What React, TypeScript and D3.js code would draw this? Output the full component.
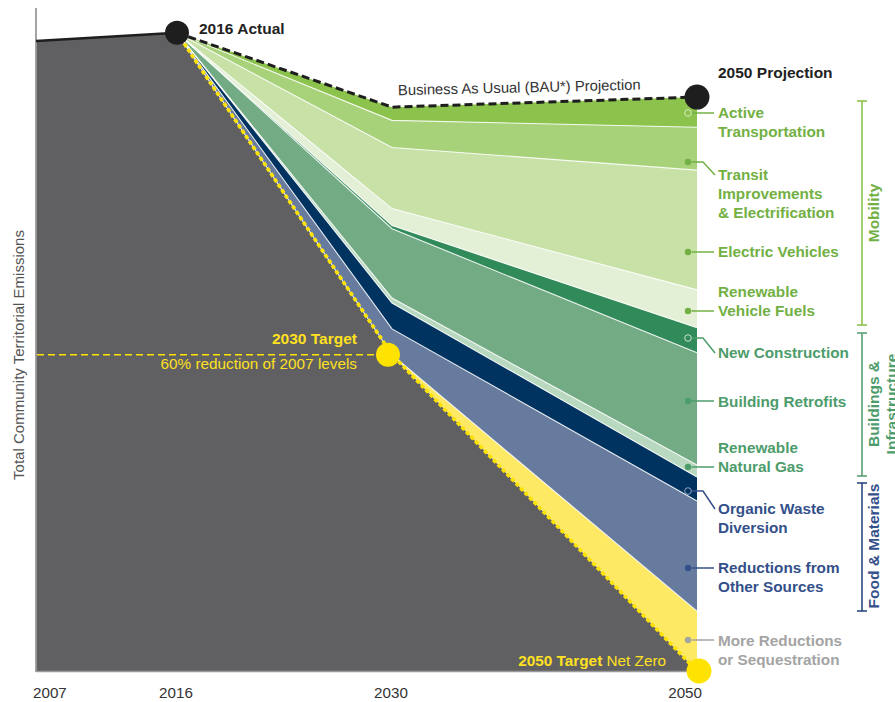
import React from "react";
import * as d3 from "d3";

// ---------- DATA ----------
const historyYears = [2007, 2016];
const historyValues = [100, 101.3]; // index: 2007 emissions = 100

const pathYears = [2016, 2030, 2050];
const targetPathway = [101.3, 50.2, 0]; // net-zero target pathway

const wedgeKeys = [
  "moreReductions",
  "otherSources",
  "organicWaste",
  "renewableNaturalGas",
  "buildingRetrofits",
  "newConstruction",
  "renewableVehicleFuels",
  "electricVehicles",
  "transit",
  "activeTransportation",
];
const moreReductions = [0, 0, 9.5];
const otherSources = [0, 4.1, 17.5];
const organicWaste = [0, 4.1, 3.8];
const renewableNaturalGas = [0, 0.8, 1.9];
const buildingRetrofits = [0, 11.0, 17.8];
const newConstruction = [0, 0.5, 4.0];
const renewableVehicleFuels = [0, 2.7, 6.0];
const electricVehicles = [0, 9.7, 19.0];
const transit = [0, 4.3, 6.8];
const activeTransportation = [0, 2.1, 4.8];

const wedgeValues: Record<string, number[]> = {
  moreReductions,
  otherSources,
  organicWaste,
  renewableNaturalGas,
  buildingRetrofits,
  newConstruction,
  renewableVehicleFuels,
  electricVehicles,
  transit,
  activeTransportation,
};

const tickYears = [2007, 2016, 2030, 2050];
const tickLabels = ["2007", "2016", "2030", "2050"];

// ---------- STYLE ----------
const wedgeColors: Record<string, string> = {
  moreReductions: "#fde964",
  otherSources: "#677b9f",
  organicWaste: "#003360",
  renewableNaturalGas: "#b8d8bf",
  buildingRetrofits: "#73ab85",
  newConstruction: "#318a59",
  renewableVehicleFuels: "#e3f0d6",
  electricVehicles: "#c7e1a6",
  transit: "#a8d27a",
  activeTransportation: "#8cc34c",
};

const groupColors: Record<string, string> = {
  mob: "#72b043",
  bld: "#4d9c6b",
  food: "#34508a",
  more: "#a4a4a4",
};

const labels = [
  { lines: ["Active", "Transportation"], ty: [113, 132], dy: 113, elbow: false, hollow: true, g: "mob", hc: "#d5eabd" },
  { lines: ["Transit", "Improvements", "& Electrification"], ty: [175, 194, 213], dy: 162, elbow: true, hollow: false, g: "mob" },
  { lines: ["Electric Vehicles"], ty: [252], dy: 252, elbow: false, hollow: false, g: "mob" },
  { lines: ["Renewable", "Vehicle Fuels"], ty: [292, 311], dy: 311, elbow: false, hollow: false, g: "mob" },
  { lines: ["New Construction"], ty: [353], dy: 338, elbow: true, hollow: true, g: "bld", hc: "#cfe3d5" },
  { lines: ["Building Retrofits"], ty: [402], dy: 401, elbow: false, hollow: false, g: "bld" },
  { lines: ["Renewable", "Natural Gas"], ty: [448, 467], dy: 467, elbow: false, hollow: false, g: "bld" },
  { lines: ["Organic Waste", "Diversion"], ty: [509, 528], dy: 491, elbow: true, hollow: true, g: "food", hc: "#8fa2c2" },
  { lines: ["Reductions from", "Other Sources"], ty: [568, 587], dy: 568, elbow: false, hollow: false, g: "food" },
  { lines: ["More Reductions", "or Sequestration"], ty: [641, 660], dy: 640, elbow: false, hollow: false, g: "more" },
];

const brackets = [
  { g: "mob", y0: 101, y1: 325, stroke: "#8cc34c", lines: ["Mobility"], cy: 213 },
  { g: "bld", y0: 333, y1: 476, stroke: "#5a9f75", lines: ["Buildings &", "Infrastructure"], cy: 404 },
  { g: "food", y0: 483, y1: 611, stroke: "#2a4a7f", lines: ["Food & Materials"], cy: 546 },
];

const FONT = "'Liberation Sans', Arial, Helvetica, sans-serif";
const YELLOW = "#ffe300";
const YTEXT = "#ffe11f";

export default function App() {
  const W = 895;
  const H = 702;
  const x = d3.scaleLinear().domain([2007, 2016, 2030, 2050]).range([36, 177, 392, 697]);
  const y = d3.scaleLinear().domain([0, 100]).range([671, 41]);

  const rows = pathYears.map((yr, i) => {
    const r: any = { year: yr, base: targetPathway[i] };
    wedgeKeys.forEach((k) => (r[k] = wedgeValues[k][i]));
    return r;
  });
  const series = d3.stack().keys(wedgeKeys)(rows as any);

  const area = d3
    .area<any>()
    .x((d) => x(d.data.year))
    .y0((d) => y(d.data.base + d[0]))
    .y1((d) => y(d.data.base + d[1]));
  const topLine = d3
    .line<any>()
    .x((d) => x(d.data.year))
    .y((d) => y(d.data.base + d[1]));

  const grayPts = [
    ...historyYears.map((yr, i) => [yr, historyValues[i]]),
    ...pathYears.slice(1).map((yr, i) => [yr, targetPathway[i + 1]]),
  ];
  const grayArea = d3
    .area<number[]>()
    .x((d) => x(d[0]))
    .y0(y(0))
    .y1((d) => y(d[1]))(grayPts as any);

  const histLine = d3
    .line<number>()
    .x((_, i) => x(historyYears[i]))
    .y((d) => y(d))(historyValues);

  const targetLine = d3
    .line<number>()
    .x((_, i) => x(pathYears[i]))
    .y((d) => y(d))(targetPathway);

  const bau = series[series.length - 1];
  const bauLine = topLine(bau as any);

  const x2016 = x(2016);
  const y2016 = y(historyValues[1]);
  const x2030 = x(2030);
  const yT2030 = y(targetPathway[1]);
  const x2050 = x(2050);
  const yBau2050 = y(rows[2].base + (bau as any)[2][1]);

  return (
    <svg
      width={W}
      height={H}
      style={{ position: "absolute", left: 0, top: 0, background: "#fff" }}
      fontFamily={FONT}
    >
      <path d={grayArea || ""} fill="#606062" />
      {series.map((s) => (
        <path key={s.key} d={area(s as any) || ""} fill={wedgeColors[s.key]} />
      ))}
      {series.slice(0, -1).map((s) => (
        <path key={"sep" + s.key} d={topLine(s as any) || ""} fill="none" stroke="#ffffff" strokeWidth={1.1} strokeOpacity={0.85} />
      ))}
      <line x1={36} x2={36} y1={8} y2={y(0) + 1} stroke="#9a9a9a" strokeWidth={1.8} />
      <line x1={36} x2={x2050} y1={y(0) + 0.5} y2={y(0) + 0.5} stroke="#9a9a9a" strokeWidth={1.5} />
      <path d={targetLine || ""} fill="none" stroke={YELLOW} strokeWidth={3.6} strokeDasharray="4 2.5" />
      <path d={histLine || ""} fill="none" stroke="#1e1e1e" strokeWidth={2.6} />
      <path d={bauLine || ""} fill="none" stroke="#1e1e1e" strokeWidth={3} strokeDasharray="8 4" />
      <line x1={37} x2={x2030} y1={yT2030} y2={yT2030} stroke={YELLOW} strokeWidth={1.6} strokeDasharray="7 4" />

      <circle cx={x2016} cy={y2016} r={12} fill="#1e1e1e" />
      <circle cx={x2050} cy={yBau2050} r={12.5} fill="#1e1e1e" />
      <circle cx={x2030 - 4} cy={yT2030} r={12} fill={YELLOW} />
      <circle cx={x2050 + 2} cy={y(0)} r={12.5} fill={YELLOW} />

      <text x={199} y={29} dy="0.35em" fontSize={15.5} fontWeight="bold" fill="#222">2016 Actual</text>
      <text x={718} y={73} dy="0.35em" fontSize={15.5} fontWeight="bold" fill="#222">2050 Projection</text>
      <text x={398} y={90} dy="0.35em" fontSize={14.8} fill="#333" transform="rotate(-1.3 398 90)">
        Business As Usual (BAU*) Projection
      </text>
      <text x={357} y={339} dy="0.35em" fontSize={15.5} fontWeight="bold" fill={YTEXT} textAnchor="end">2030 Target</text>
      <text x={357} y={364} dy="0.35em" fontSize={15.3} fill={YTEXT} textAnchor="end">60% reduction of 2007 levels</text>
      <text x={666} y={661} dy="0.35em" fontSize={15.3} fill={YTEXT} textAnchor="end">
        <tspan fontWeight="bold">2050 Target</tspan>
        <tspan> Net Zero</tspan>
      </text>

      <text transform={`translate(24,355) rotate(-90)`} textAnchor="middle" fontSize={15} fill="#555">
        Total Community Territorial Emissions
      </text>

      {tickYears.map((yr, i) => {
        const anchor = i === 0 ? "start" : i === tickYears.length - 1 ? "end" : "middle";
        const off = i === 0 ? -3 : i === tickYears.length - 1 ? 5 : -1;
        return (
          <text key={yr} x={x(yr) + off} y={693} dy="0.35em" fontSize={15.2} fill="#333" textAnchor={anchor}>
            {tickLabels[i]}
          </text>
        );
      })}

      {labels.map((l, i) => {
        const c = groupColors[l.g];
        const linePath = l.elbow
          ? `M${691.5},${l.dy} H703 L715,${l.ty[0]}`
          : `M${691.5},${l.dy} H714`;
        return (
          <g key={i}>
            <path d={linePath} fill="none" stroke={c} strokeWidth={1.5} />
            {l.hollow ? (
              <circle cx={688} cy={l.dy} r={3.3} fill="none" stroke={(l as any).hc} strokeWidth={1} />
            ) : (
              <circle cx={688} cy={l.dy} r={3.2} fill={c} />
            )}
            {l.lines.map((t, j) => (
              <text key={j} x={718} y={l.ty[j]} dy="0.35em" fontSize={15.3} fontWeight="bold" fill={c}>
                {t}
              </text>
            ))}
          </g>
        );
      })}

      {brackets.map((b) => (
        <g key={b.g}>
          <line x1={862} x2={862} y1={b.y0} y2={b.y1} stroke={b.stroke} strokeWidth={1.6} />
          <line x1={857} x2={867} y1={b.y0} y2={b.y0} stroke={b.stroke} strokeWidth={1.6} />
          <line x1={857} x2={867} y1={b.y1} y2={b.y1} stroke={b.stroke} strokeWidth={1.6} />
          {b.lines.map((t, j) => (
            <text
              key={j}
              transform={`translate(${879 + j * 18},${b.cy}) rotate(-90)`}
              textAnchor="middle"
              fontSize={15.5}
              fontWeight="bold"
              fill={groupColors[b.g]}
            >
              {t}
            </text>
          ))}
        </g>
      ))}
    </svg>
  );
}
